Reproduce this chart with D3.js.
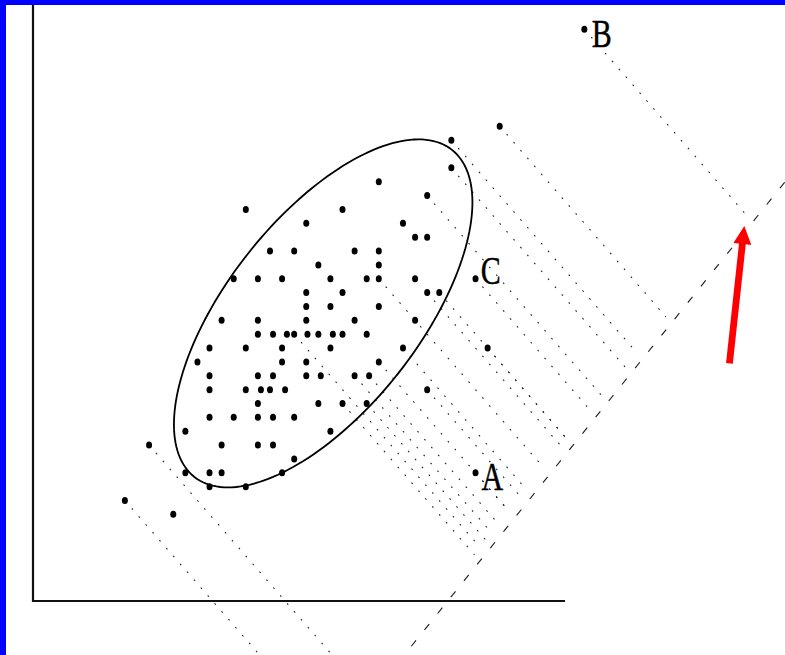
<!DOCTYPE html>
<html>
<head>
<meta charset="utf-8">
<script src="https://cdn.jsdelivr.net/npm/d3@7"></script>
<style>
  html, body { margin: 0; padding: 0; background: #fff; overflow: hidden; }
  svg { display: block; }
</style>
</head>
<body>
<svg id="chart" width="785" height="655"></svg>
<script>
// Observations that are only plotted
const clusterPoints = [
  [28, 27],
  [17, 25], [25, 25],
  [22, 24], [30, 24],
  [31, 23], [32, 23],
  [19, 22], [21, 22], [26, 22], [28, 22],
  [23, 21], [28, 21],
  [16, 20], [18, 20], [20, 20], [24, 20], [27, 20], [31, 20],
  [22, 19], [25, 19],
  [22, 18], [24, 18], [28, 18],
  [15, 17], [18, 17], [22, 17], [26, 17], [31, 17],
  [18, 16], [19.25, 16], [20.4, 16], [22.1, 16], [23, 16], [24.2, 16], [25, 16], [27, 16],
  [14, 15], [17, 15], [20, 15], [24, 15],
  [13, 14], [20, 14], [22, 14],
  [14, 13], [18, 13], [19.25, 13], [22, 13], [23.2, 13],
  [14, 12], [17, 12], [18.25, 12], [19, 12], [20.25, 12],
  [18, 11], [23, 11],
  [14, 10], [16, 10], [18, 10], [19.25, 10], [21, 10],
  [12, 9], [24, 9],
  [15, 8], [18, 8], [19.25, 8],
  [21, 7],
  [12, 6], [14, 6], [15, 6], [20, 6],
  [14, 5], [17, 5],
  [11, 3]
];

// Observations drawn with their projection onto the principal axis
const projectedPoints = [
  [45, 38], [38, 31], [34, 30], [34, 28], [32, 26],
  [28, 20], [36, 20], [32, 19], [33, 19],
  [21, 16], [30, 15], [37, 15], [28, 14],
  [26, 13], [27.2, 13], [32, 12], [25, 11], [27, 11],
  [9, 8], [36, 6], [7, 4]
];

// Named observations
const labelText = ["A", "B", "C"];
const labelPoints = [[36, 6], [45, 38], [36, 20]];

// Concentration ellipse: centre and its two semi-axis vectors (data units)
const ellipseCenter = [23.4, 17.5];
const ellipseAxisMajor = [10.65, 11.8];
const ellipseAxisMinor = [6.24, -4.29];

// Principal axis: a point on it and its slope; projections run along projectionDir
const principalPoint = [33.7, -3.25];
const principalSlope = 1.084;
const projectionDir = [1, -1];

// Arrow marking the principal direction
const arrowFrom = [57.0, 13.9];
const arrowTo = [58.23, 23.8];

const svg = d3.select("#chart");
const W = 785, H = 655;

const x = d3.scaleLinear().domain([-0.6, 43.4]).range([33, 565]);
const y = d3.scaleLinear().domain([-3.25, 39.75]).range([601, 5]);

svg.append("rect").attr("width", W).attr("height", H).attr("fill", "#fff");

// foot of each projection on the principal axis
const intercept = principalPoint[1] - principalSlope * principalPoint[0];
function foot(p) {
  const [dx, dy] = projectionDir;
  const t = (p[1] - principalSlope * p[0] - intercept) / (principalSlope * dx - dy);
  const tt = t - 0.45;
  return [p[0] + tt * dx, p[1] + tt * dy];
}

// projection lines (dotted)
svg.append("g")
  .selectAll("line")
  .data(projectedPoints)
  .join("line")
  .attr("x1", d => x(d[0]))
  .attr("y1", d => y(d[1]))
  .attr("x2", d => x(foot(d)[0]))
  .attr("y2", d => y(foot(d)[1]))
  .attr("stroke", "#222")
  .attr("stroke-width", 1.1)
  .attr("stroke-dasharray", "1.7,8.8");

// principal axis (dashed)
const axisXs = [10, 80];
svg.append("line")
  .attr("x1", x(axisXs[0]))
  .attr("y1", y(principalSlope * axisXs[0] + intercept))
  .attr("x2", x(axisXs[1]))
  .attr("y2", y(principalSlope * axisXs[1] + intercept))
  .attr("stroke", "#1a1a1a")
  .attr("stroke-width", 1.1)
  .attr("stroke-dasharray", "7.5,13.5");

// axes frame
svg.append("line")
  .attr("x1", x.range()[0]).attr("x2", x.range()[0])
  .attr("y1", y.range()[0] + 1).attr("y2", y.range()[1] - 5)
  .attr("stroke", "#111").attr("stroke-width", 2.2);
svg.append("line")
  .attr("x1", x.range()[0] - 1).attr("x2", x.range()[1])
  .attr("y1", y.range()[0]).attr("y2", y.range()[0])
  .attr("stroke", "#111").attr("stroke-width", 2.2);

// concentration ellipse
const ellipsePts = d3.range(0, 180).map(i => {
  const a = (i / 180) * 2 * Math.PI;
  return [
    ellipseCenter[0] + Math.cos(a) * ellipseAxisMajor[0] + Math.sin(a) * ellipseAxisMinor[0],
    ellipseCenter[1] + Math.cos(a) * ellipseAxisMajor[1] + Math.sin(a) * ellipseAxisMinor[1]
  ];
});
svg.append("path")
  .attr("d", d3.line().x(d => x(d[0])).y(d => y(d[1])).curve(d3.curveLinearClosed)(ellipsePts))
  .attr("fill", "none")
  .attr("stroke", "#000")
  .attr("stroke-width", 1.8);

// observations
svg.append("g")
  .selectAll("ellipse")
  .data(clusterPoints.concat(projectedPoints))
  .join("ellipse")
  .attr("cx", d => x(d[0]))
  .attr("cy", d => y(d[1]))
  .attr("rx", 3)
  .attr("ry", 3.5)
  .attr("fill", "#000");

// point labels
const labelOffset = { A: [6, 17.3], B: [7.5, 17.4], C: [5.3, 5] };
svg.append("g")
  .selectAll("text")
  .data(labelText.map((t, i) => ({ t, p: labelPoints[i] })))
  .join("text")
  .attr("transform", d => `translate(${x(d.p[0]) + labelOffset[d.t][0]},${y(d.p[1]) + labelOffset[d.t][1]}) scale(1,1.33)`)
  .attr("font-family", "'Liberation Serif', 'Times New Roman', serif")
  .attr("font-size", 30)
  .attr("fill", "#000")
  .attr("stroke", "#000")
  .attr("stroke-width", 0.35)
  .text(d => d.t);

// red arrow
{
  const x0 = x(arrowFrom[0]), y0 = y(arrowFrom[1]);
  const x1 = x(arrowTo[0]), y1 = y(arrowTo[1]);
  const len = Math.hypot(x1 - x0, y1 - y0);
  const ux = (x1 - x0) / len, uy = (y1 - y0) / len;
  const nx = -uy, ny = ux;
  const headLen = 18, headHalf = 9, shaftHalf = 3.4;
  const bx = x1 - ux * headLen, by = y1 - uy * headLen;
  const pts = [
    [x0 + nx * shaftHalf, y0 + ny * shaftHalf],
    [bx + nx * shaftHalf, by + ny * shaftHalf],
    [bx + nx * headHalf, by + ny * headHalf],
    [x1, y1],
    [bx - nx * headHalf, by - ny * headHalf],
    [bx - nx * shaftHalf, by - ny * shaftHalf],
    [x0 - nx * shaftHalf, y0 - ny * shaftHalf]
  ];
  svg.append("path")
    .attr("d", "M" + pts.map(p => p.join(",")).join("L") + "Z")
    .attr("fill", "#ff0000");
}

// blue frame
svg.append("rect").attr("x", 0).attr("y", 0).attr("width", 6).attr("height", H).attr("fill", "#0000ff");
svg.append("rect").attr("x", 0).attr("y", 0).attr("width", W).attr("height", 5).attr("fill", "#0000ff");
</script>
</body>
</html>
